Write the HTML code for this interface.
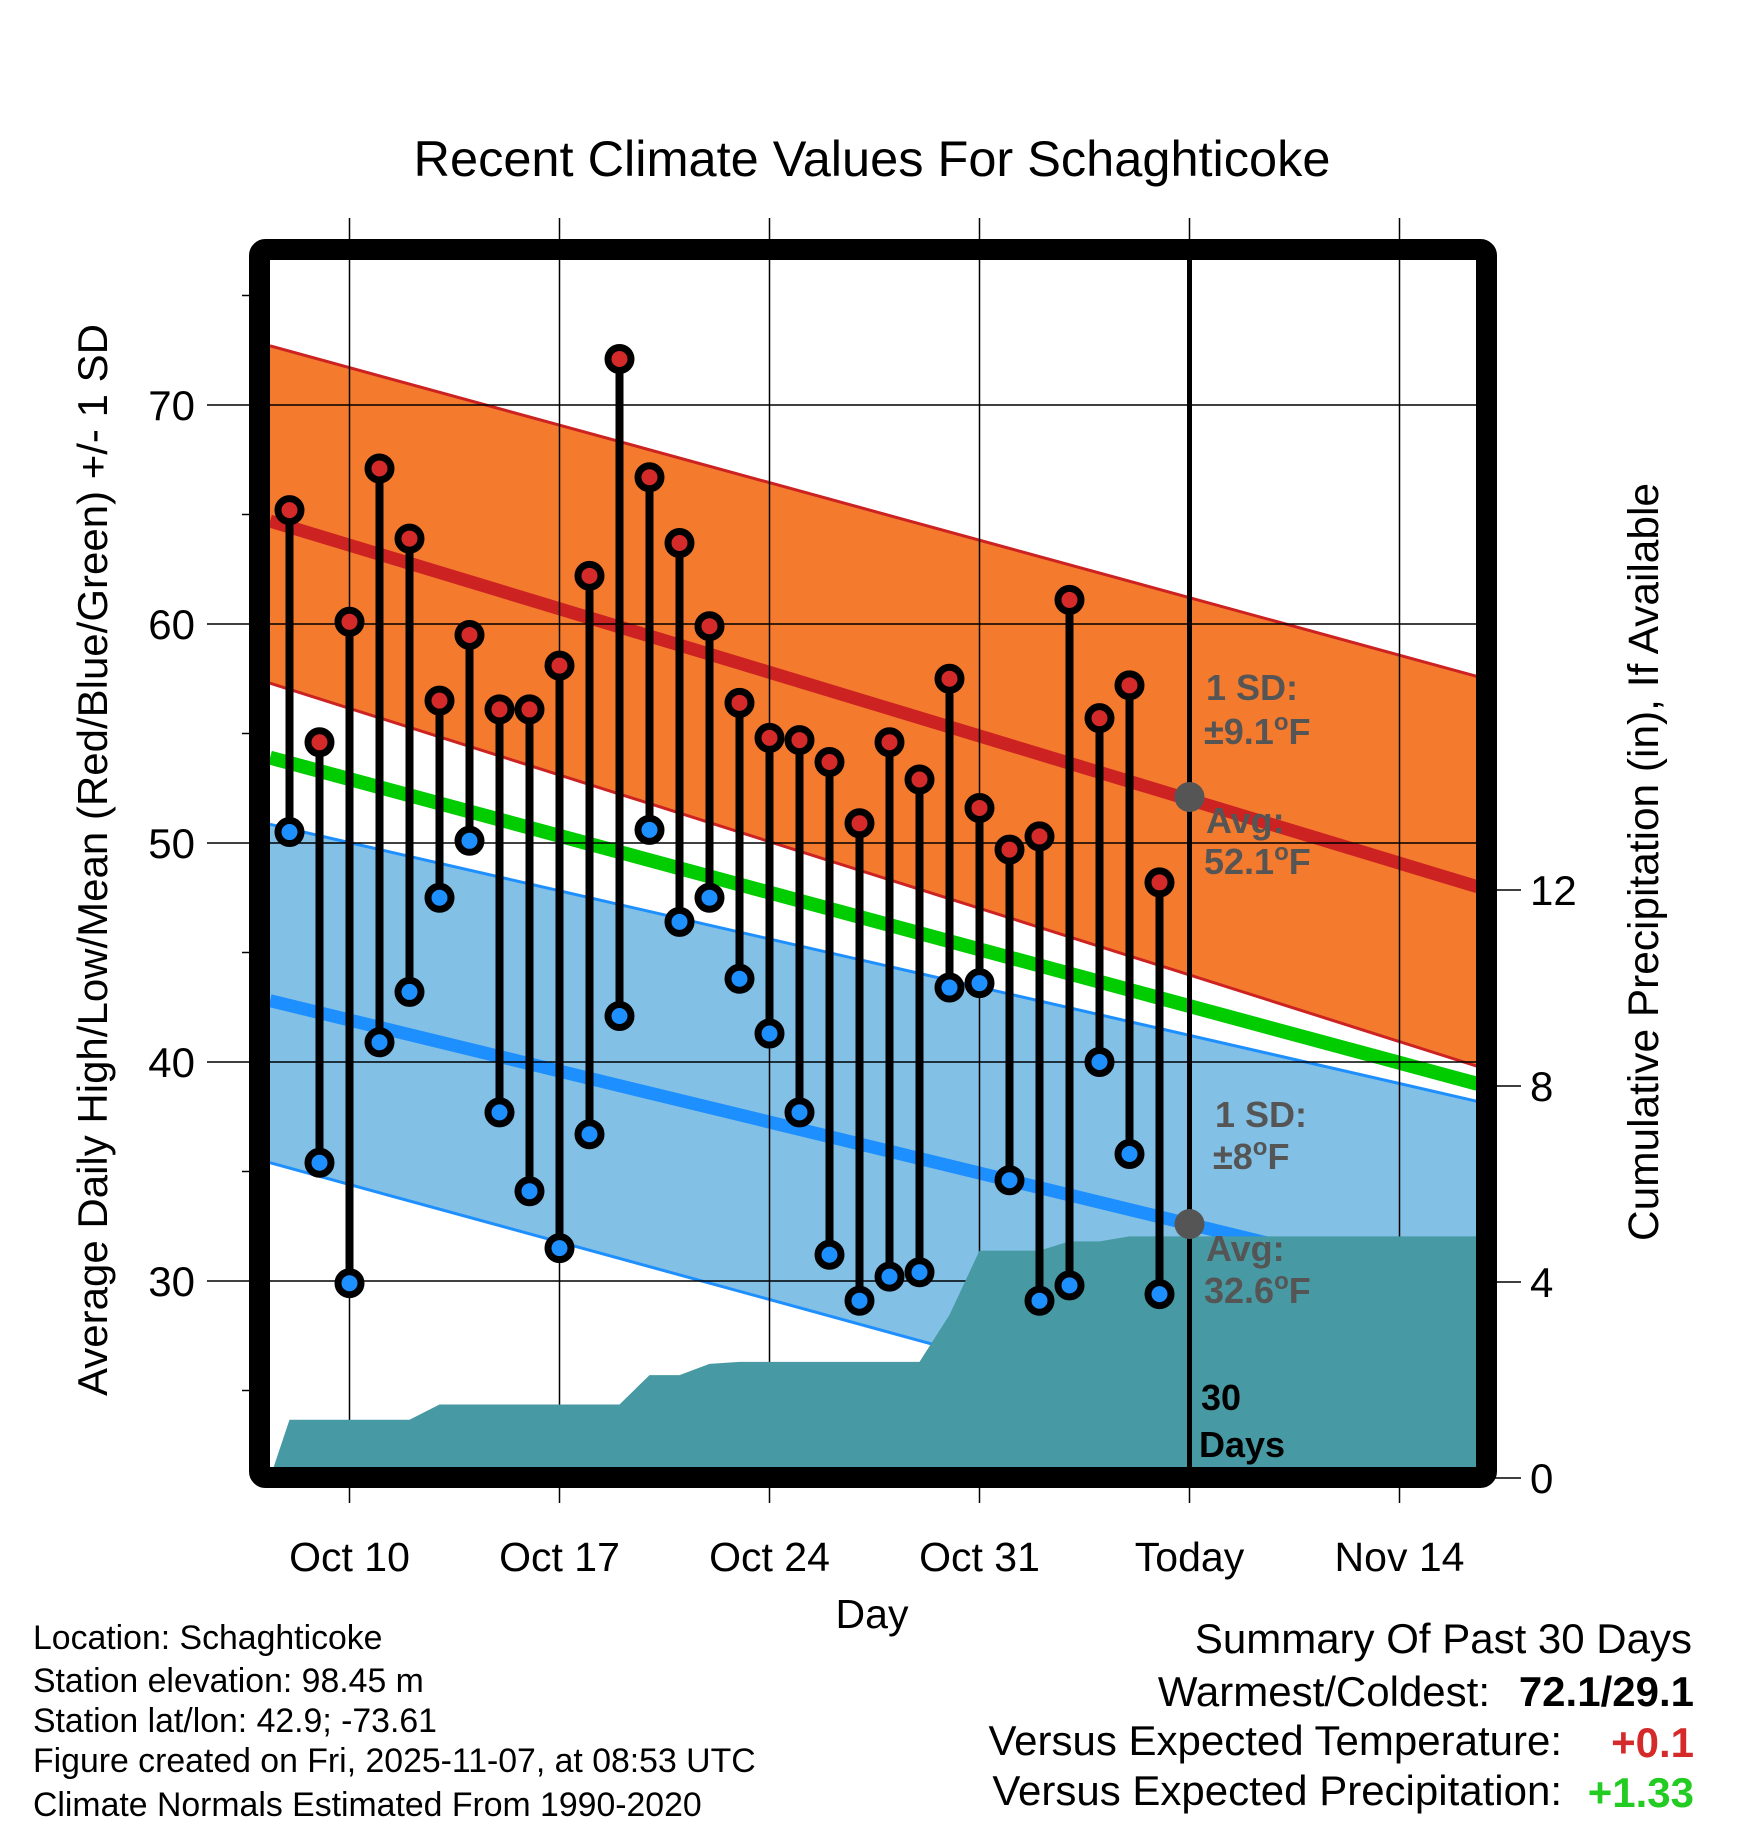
<!DOCTYPE html>
<html><head><meta charset="utf-8"><style>
body{margin:0;background:#fff;width:1748px;height:1828px;overflow:hidden}
svg{display:block;font-family:"Liberation Sans",sans-serif}
</style></head><body>
<svg id="chart" width="1748" height="1828" viewBox="0 0 1748 1828" xmlns="http://www.w3.org/2000/svg">
<defs><clipPath id="plotclip"><rect x="270" y="260" width="1208" height="1208"/></clipPath></defs>
<text x="872" y="176" font-size="50.5" text-anchor="middle">Recent Climate Values For Schaghticoke</text>
<g id="plot" clip-path="url(#plotclip)"></g>
<g id="over"></g>
<text x="872" y="1628" font-size="41" text-anchor="middle">Day</text>
<text transform="translate(107,860) rotate(-90)" font-size="42" text-anchor="middle">Average Daily High/Low/Mean (Red/Blue/Green) +/- 1 SD</text>
<text transform="translate(1658,862) rotate(-90)" font-size="42.4" text-anchor="middle">Cumulative Precipitation (in), If Available</text>
<g font-size="33.8">
<text x="33" y="1649">Location: Schaghticoke</text>
<text x="33" y="1692">Station elevation: 98.45 m</text>
<text x="33" y="1732">Station lat/lon: 42.9; -73.61</text>
<text x="33" y="1772">Figure created on Fri, 2025-11-07, at 08:53 UTC</text>
<text x="33" y="1816">Climate Normals Estimated From 1990-2020</text>
</g>
<g font-size="42" text-anchor="end">
<text x="1692" y="1653">Summary Of Past 30 Days</text>
<text x="1490" y="1706">Warmest/Coldest:</text>
<text x="1694" y="1706" font-weight="bold">72.1/29.1</text>
<text x="1562" y="1755">Versus Expected Temperature:</text>
<text x="1694" y="1757" font-weight="bold" fill="#d42a2a">+0.1</text>
<text x="1562" y="1805">Versus Expected Precipitation:</text>
<text x="1694" y="1807" font-weight="bold" fill="#22cc22">+1.33</text>
</g>
</svg>
<script>
// Days are offsets from Oct 10
const dataDays = [-2,-1,0,1,2,3,4,5,6,7,8,9,10,11,12,13,14,15,16,17,18,19,20,21,22,23,24,25,26,27];
const highs = [65.2,54.6,60.1,67.1,63.9,56.5,59.5,56.1,56.1,58.1,62.2,72.1,66.7,63.7,59.9,56.4,54.8,54.7,53.7,50.9,54.6,52.9,57.5,51.6,49.7,50.3,61.1,55.7,57.2,48.2];
const lows = [50.5,35.4,29.9,40.9,43.2,47.5,50.1,37.7,34.1,31.5,36.7,42.1,50.6,46.4,47.5,43.8,41.3,37.7,31.2,29.1,30.2,30.4,43.4,43.6,34.6,29.1,29.8,40.0,35.8,29.4];
const precip = [1.19,1.19,1.19,1.19,1.19,1.5,1.5,1.5,1.5,1.5,1.5,1.5,2.1,2.1,2.33,2.37,2.37,2.37,2.37,2.37,2.37,2.37,3.33,4.64,4.64,4.64,4.83,4.83,4.93,4.93];
const normDays = [-2.65, 37.6];
const highMean = [64.7, 48.0];
const highUpper = [72.7, 57.6];
const highLower = [57.3, 39.8];
const avgMean = [53.9, 39.0];
const lowMean = [42.8, 29.4];
const lowUpper = [50.85, 38.2];
const lowLower = [35.4, 20.3];
const xTickDays = [0,7,14,21,28,35];
const xTickLabels = ["Oct 10","Oct 17","Oct 24","Oct 31","Today","Nov 14"];
const yTicks = [30,40,50,60,70];
const yMinorTicks = [25,35,45,55,65,75];
const y2Ticks = [0,4,8,12];
const todayDay = 28;
const todayHigh = 52.1, todayLow = 32.6;

const X0=270,X1=1478,Y0=260,Y1=1468;
const x = d => 349.5 + 30*d;
const y = v => 405 - (v-70)*21.9;
const yp = p => 1478 - p*49;
const NS="http://www.w3.org/2000/svg";
const plot=document.getElementById('plot'), svg=document.getElementById('chart');
function mk(tag,attrs,parent){const e=document.createElementNS(NS,tag);for(const k in attrs)e.setAttribute(k,attrs[k]);parent.appendChild(e);return e;}

function band(up,lo,fill){
  const pts=[[x(normDays[0]),y(up[0])],[x(normDays[1]),y(up[1])],[x(normDays[1]),y(lo[1])],[x(normDays[0]),y(lo[0])]];
  return mk('polygon',{points:pts.map(p=>p.join(',')).join(' '),fill:fill},plot);
}
function line(arr,color,w){
  return mk('line',{x1:x(normDays[0]),y1:y(arr[0]),x2:x(normDays[1]),y2:y(arr[1]),stroke:color,'stroke-width':w},plot);
}
let e;
e=band(highUpper,highLower,'#f47a2e');


e=line(highUpper,'#cc2222',3);


e=line(highLower,'#cc2222',3);


e=band(lowUpper,lowLower,'#82c0e6');


e=line(lowUpper,'#1e8fff',3);


e=line(lowLower,'#1e8fff',3);


e=line(avgMean,'#00cc00',14);


e=line(highMean,'#cc2222',13);


e=line(lowMean,'#1e8fff',13);



yTicks.forEach(v=>{
  const g=mk('line',{x1:207,x2:X1,y1:y(v),y2:y(v),stroke:'#000','stroke-width':1.5},svg);
  
  
  const t=mk('text',{x:195,y:y(v)+15,'font-size':42,'text-anchor':'end'},svg);t.textContent=v;
  
  
});
yMinorTicks.forEach(v=>{
  const g=mk('line',{x1:242,x2:256,y1:y(v),y2:y(v),stroke:'#000','stroke-width':1.5},svg);
  
  
});
xTickDays.forEach((d,i)=>{
  const g=mk('line',{x1:x(d),x2:x(d),y1:218,y2:1503,stroke:'#000','stroke-width':1.5},svg);
  
  
  const t=mk('text',{x:x(d),y:1571,'font-size':41,'text-anchor':'middle'},svg);t.textContent=xTickLabels[i];
  
  
});
y2Ticks.forEach(p=>{
  const g=mk('line',{x1:1494,x2:1521,y1:yp(p),y2:yp(p),stroke:'#000','stroke-width':1.5},svg);
  
  
  const t=mk('text',{x:1530,y:yp(p)+15,'font-size':42},svg);t.textContent=p;
  
  
});
let pp=[[X0,yp(0)]];
dataDays.forEach((d,i)=>pp.push([x(d),yp(precip[i])]));
pp.push([X1,yp(precip[precip.length-1])],[X1,yp(0)+10],[X0,yp(0)+10]);
const pf=mk('polygon',{points:pp.map(p=>p.join(',')).join(' '),fill:'#4799a3','clip-path':'url(#plotclip)'},svg);



const tl=mk('line',{x1:x(todayDay),x2:x(todayDay),y1:Y0,y2:Y1,stroke:'#000','stroke-width':5},svg);



dataDays.forEach((d,i)=>{
  const s=mk('line',{x1:x(d),x2:x(d),y1:y(highs[i]),y2:y(lows[i]),stroke:'#000','stroke-width':8},svg);
  
  
  const h=mk('circle',{cx:x(d),cy:y(highs[i]),r:11.5,fill:'#d42a2a',stroke:'#000','stroke-width':7},svg);
  
  
  const l=mk('circle',{cx:x(d),cy:y(lows[i]),r:11.5,fill:'#1e8fff',stroke:'#000','stroke-width':7},svg);
  
  
});
const g1=mk('circle',{cx:x(todayDay),cy:y(todayHigh),r:15,fill:'#555'},svg);


const g2=mk('circle',{cx:x(todayDay),cy:y(todayLow),r:15,fill:'#555'},svg);



const ann=[["1 SD:",1206,700,'#555','high-sd-label'],["±9.1|F",1204,744,'#555','high-sd-value'],["Avg:",1206,833,'#555','high-avg-label'],["52.1|F",1204,874,'#555','high-avg-value'],
["1 SD:",1215,1127,'#555','low-sd-label'],["±8|F",1213,1169,'#555','low-sd-value'],["Avg:",1206,1261,'#555','low-avg-label'],["32.6|F",1204,1303,'#555','low-avg-value'],
["30",1201,1410,'#000','days-count'],["Days",1199,1457,'#000','days-label']];
ann.forEach(a=>{const t=mk('text',{x:a[1],y:a[2],'font-size':36,'font-weight':'bold',fill:a[3]},svg);
  const parts=a[0].split('|');
  if(parts.length===2){
    t.appendChild(document.createTextNode(parts[0]));
    const s1=mk('tspan',{dy:-14,'font-size':24},t);s1.textContent='o';
    const s2=mk('tspan',{dy:14},t);s2.textContent=parts[1];
  } else t.textContent=a[0];
  
  });

const fr=mk('rect',{x:259.5,y:249.5,width:1227,height:1228,fill:'none',stroke:'#000','stroke-width':21,rx:6},svg);


</script>
</body></html>
